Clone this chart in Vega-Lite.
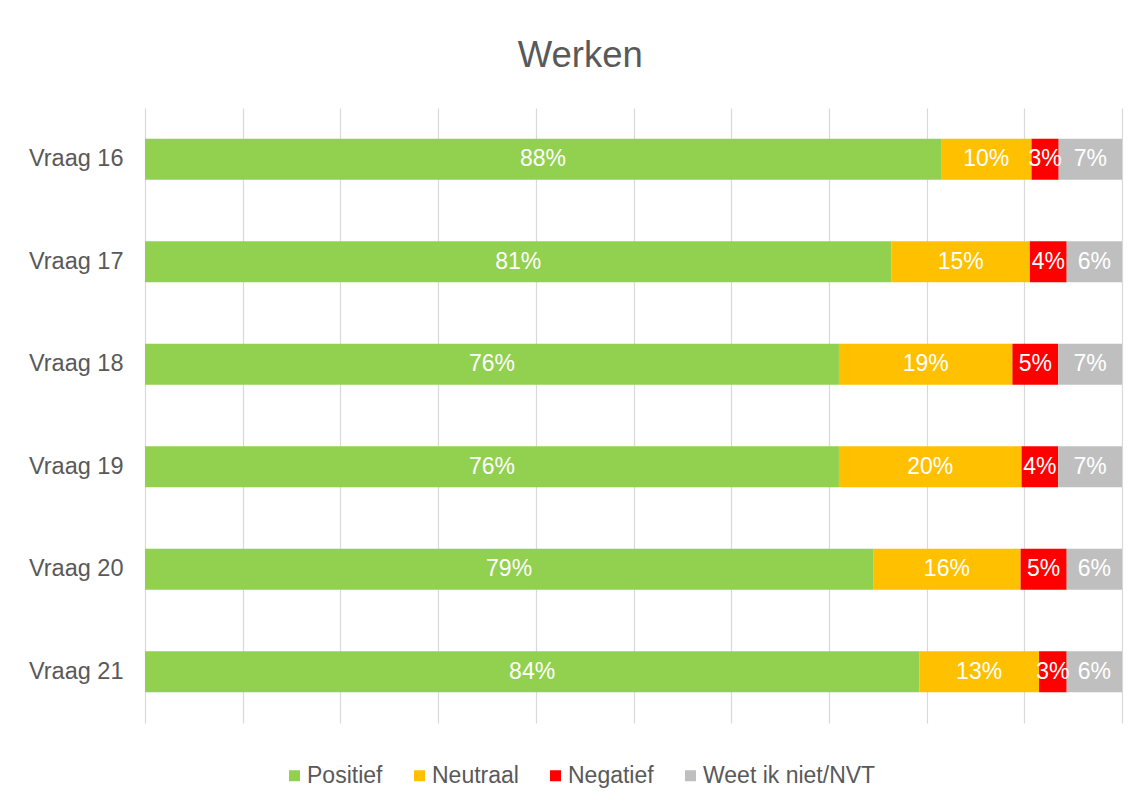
{
  "$schema": "https://vega.github.io/schema/vega-lite/v6.json",
  "width": 977,
  "height": 615,
  "autosize": {"type": "none"},
  "padding": {"left": 145, "top": 108, "right": 16, "bottom": 82},
  "background": "white",
  "title": {
    "text": "Werken",
    "fontSize": 36.5,
    "font": "Liberation Sans",
    "fontWeight": "normal",
    "color": "#595959",
    "anchor": "middle",
    "frame": "bounds",
    "offset": 34,
    "dx": 5
  },
  "data": {
    "values": [
      {"vraag": "Vraag 16", "antwoord": "Positief", "k": 1, "value": 0.88},
      {"vraag": "Vraag 16", "antwoord": "Neutraal", "k": 2, "value": 0.10},
      {"vraag": "Vraag 16", "antwoord": "Negatief", "k": 3, "value": 0.03},
      {"vraag": "Vraag 16", "antwoord": "Weet ik niet/NVT", "k": 4, "value": 0.07},
      {"vraag": "Vraag 17", "antwoord": "Positief", "k": 1, "value": 0.81},
      {"vraag": "Vraag 17", "antwoord": "Neutraal", "k": 2, "value": 0.15},
      {"vraag": "Vraag 17", "antwoord": "Negatief", "k": 3, "value": 0.04},
      {"vraag": "Vraag 17", "antwoord": "Weet ik niet/NVT", "k": 4, "value": 0.06},
      {"vraag": "Vraag 18", "antwoord": "Positief", "k": 1, "value": 0.76},
      {"vraag": "Vraag 18", "antwoord": "Neutraal", "k": 2, "value": 0.19},
      {"vraag": "Vraag 18", "antwoord": "Negatief", "k": 3, "value": 0.05},
      {"vraag": "Vraag 18", "antwoord": "Weet ik niet/NVT", "k": 4, "value": 0.07},
      {"vraag": "Vraag 19", "antwoord": "Positief", "k": 1, "value": 0.76},
      {"vraag": "Vraag 19", "antwoord": "Neutraal", "k": 2, "value": 0.20},
      {"vraag": "Vraag 19", "antwoord": "Negatief", "k": 3, "value": 0.04},
      {"vraag": "Vraag 19", "antwoord": "Weet ik niet/NVT", "k": 4, "value": 0.07},
      {"vraag": "Vraag 20", "antwoord": "Positief", "k": 1, "value": 0.79},
      {"vraag": "Vraag 20", "antwoord": "Neutraal", "k": 2, "value": 0.16},
      {"vraag": "Vraag 20", "antwoord": "Negatief", "k": 3, "value": 0.05},
      {"vraag": "Vraag 20", "antwoord": "Weet ik niet/NVT", "k": 4, "value": 0.06},
      {"vraag": "Vraag 21", "antwoord": "Positief", "k": 1, "value": 0.84},
      {"vraag": "Vraag 21", "antwoord": "Neutraal", "k": 2, "value": 0.13},
      {"vraag": "Vraag 21", "antwoord": "Negatief", "k": 3, "value": 0.03},
      {"vraag": "Vraag 21", "antwoord": "Weet ik niet/NVT", "k": 4, "value": 0.06}
    ]
  },
  "transform": [
    {
      "stack": "value",
      "groupby": ["vraag"],
      "sort": [{"field": "k", "order": "ascending"}],
      "offset": "normalize",
      "as": ["x0", "x1"]
    },
    {"calculate": "(datum.x0 + datum.x1) / 2", "as": "xmid"}
  ],
  "encoding": {
    "y": {
      "field": "vraag",
      "type": "nominal",
      "sort": "ascending",
      "scale": {"paddingInner": 0.6, "paddingOuter": 0.3},
      "axis": {
        "title": null,
        "domain": false,
        "ticks": false,
        "labelFont": "Liberation Sans",
        "labelFontSize": 23.5,
        "labelColor": "#595959",
        "labelPadding": 22
      }
    }
  },
  "layer": [
    {
      "mark": {"type": "bar"},
      "encoding": {
        "x": {
          "field": "x0",
          "type": "quantitative",
          "scale": {"domain": [0, 1], "nice": false},
          "axis": {
            "title": null,
            "labels": false,
            "ticks": false,
            "domain": false,
            "grid": true,
            "gridColor": "#D9D9D9",
            "gridWidth": 1.2,
            "values": [0, 0.1, 0.2, 0.3, 0.4, 0.5, 0.6, 0.7, 0.8, 0.9, 1]
          }
        },
        "x2": {"field": "x1"},
        "color": {
          "field": "antwoord",
          "type": "nominal",
          "scale": {
            "domain": ["Positief", "Neutraal", "Negatief", "Weet ik niet/NVT"],
            "range": ["#92D050", "#FFC000", "#FF0000", "#BFBFBF"]
          },
          "legend": {
            "title": null,
            "orient": "none",
            "direction": "horizontal",
            "legendX": 138,
            "legendY": 656,
            "padding": 0,
            "symbolType": "square",
            "symbolSize": 121,
            "symbolStrokeWidth": 0,
            "labelFont": "Liberation Sans",
            "labelFontSize": 23,
            "labelColor": "#595959",
            "labelLimit": 400,
            "labelOffset": 1,
            "columnPadding": 25
          }
        }
      }
    },
    {
      "mark": {"type": "text", "color": "white", "fontSize": 23, "font": "Liberation Sans"},
      "encoding": {
        "x": {"field": "xmid", "type": "quantitative"},
        "text": {"field": "value", "type": "quantitative", "format": ".0%"}
      }
    }
  ],
  "config": {"view": {"stroke": null}}
}
